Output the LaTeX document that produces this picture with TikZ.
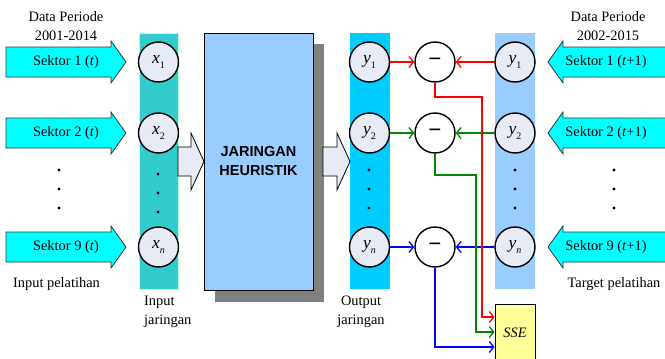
\documentclass[tikz,border=0pt]{standalone}
\usepackage{fontspec}
\setmainfont{Liberation Serif}
\newfontfamily\arialfont{Liberation Sans}
\usetikzlibrary{arrows.meta}
\definecolor{tealc}{RGB}{51,204,204}
\definecolor{outc}{RGB}{0,204,255}
\definecolor{tgtc}{RGB}{153,204,255}
\definecolor{boxc}{RGB}{153,204,255}
\definecolor{nfill}{RGB}{230,235,246}
\definecolor{cyanarrow}{RGB}{0,255,255}
\definecolor{ssefill}{RGB}{255,255,153}
\definecolor{greenc}{RGB}{0,136,0}
\definecolor{colborder}{RGB}{190,255,210}
\newcommand\nlbl[2]{\textit{#1}\raisebox{-0.55ex}{\fontsize{10}{10}\selectfont #2}}
\begin{document}
\begin{tikzpicture}[x=1pt,y=-1pt,
  txt/.style={font=\fontsize{14.4}{19}\selectfont, inner sep=0pt, align=center},
  neuron/.style={circle, draw, line width=1.4pt, fill=nfill, minimum size=40pt, inner sep=0pt, font=\fontsize{17.5}{17.5}\selectfont},
  minusnode/.style={circle, draw, line width=1.4pt, fill=white, minimum size=40pt, inner sep=0pt, font=\fontsize{23}{23}\selectfont\bfseries},
  sarrow/.style={fill=cyanarrow, draw=black!80, line width=0.8pt},
  barrow/.style={fill=nfill, draw=black, line width=0.8pt},
  conn/.style={line width=1.3pt, -{Straight Barb[length=4.5pt,width=11pt]}},
  dotc/.style={fill=black}
]
\useasboundingbox (0,0) rectangle (665,359);
% columns
\fill[tealc] (139,33) rectangle (178,289);
\draw[colborder, line width=0.8pt] (139,33) rectangle (178,289);
\fill[outc] (350,33) rectangle (390,289);
\fill[tgtc] (495,33) rectangle (535,289);
% big box with shadow
\fill[black!50] (215,44) rectangle (324,302);
\node[draw, fill=boxc, line width=1pt, minimum width=109pt, minimum height=257pt, inner sep=0pt,
  font=\arialfont\bfseries\fontsize{14.5}{19}\selectfont, align=center] (jh) at (258.5,161.5) {JARINGAN\\HEURISTIK};
% block arrows around box
\draw[barrow] (178,147) -- (191,147) -- (191,133) -- (204,161.5) -- (191,190) -- (191,176) -- (178,176) -- cycle;
\draw[barrow] (323,147) -- (337,147) -- (337,133) -- (350,161.5) -- (337,190) -- (337,176) -- (323,176) -- cycle;
% input sektor arrows
\foreach \yy in {62,133,247}{
  \draw[sarrow] (6,\yy-15) -- (111,\yy-15) -- (111,\yy-21) -- (126,\yy) -- (111,\yy+21) -- (111,\yy+15) -- (6,\yy+15) -- cycle;
  \draw[sarrow] (668,\yy-15) -- (563,\yy-15) -- (563,\yy-21) -- (548,\yy) -- (563,\yy+21) -- (563,\yy+15) -- (668,\yy+15) -- cycle;
}
\node[txt] (s1) at (66,62) {Sektor 1 (\textit{t})};
\node[txt] (s2) at (66,133) {Sektor 2 (\textit{t})};
\node[txt] (s9) at (66,247) {Sektor 9 (\textit{t})};
\node[txt] (t1) at (606,62) {Sektor 1 (\textit{t}+1)};
\node[txt] (t2) at (606,133) {Sektor 2 (\textit{t}+1)};
\node[txt] (t9) at (606,247) {Sektor 9 (\textit{t}+1)};
% labels
\node[txt] (dp1) at (66,26) {Data Periode\\2001-2014};
\node[txt] (dp2) at (608,26) {Data Periode\\2002-2015};
\node[txt] (ip) at (56.5,284) {Input pelatihan};
\node[txt] (tp) at (614,284) {Target pelatihan};
\node[txt, align=left, anchor=west] (ij) at (144,312) {Input\\jaringan};
\node[txt] (oj) at (361,312) {Output\\jaringan};
% dots
\foreach \yy in {170,189,208}{
  \fill[dotc] (59,\yy) circle (1.6pt);
  \fill[dotc] (614,\yy) circle (1.6pt);
  \fill[dotc] (369,\yy) circle (1.6pt);
  \fill[dotc] (515,\yy) circle (1.6pt);
}
\foreach \yy in {174,193,212}{
  \fill[dotc] (158,\yy) circle (1.6pt);
}
% neurons
\node[neuron] (x1) at (158.5,62) {\nlbl{x}{1}};
\node[neuron] (x2) at (158.5,133) {\nlbl{x}{2}};
\node[neuron] (xn) at (158.5,247) {\nlbl{x}{\textit{n}}};
\node[neuron] (oy1) at (369.5,62) {\nlbl{y}{1}};
\node[neuron] (oy2) at (369.5,133) {\nlbl{y}{2}};
\node[neuron] (oyn) at (369.5,247) {\nlbl{y}{\textit{n}}};
\node[neuron] (ty1) at (515,62) {\nlbl{y}{1}};
\node[neuron] (ty2) at (515,133) {\nlbl{y}{2}};
\node[neuron] (tyn) at (515,247) {\nlbl{y}{\textit{n}}};
\node[minusnode] (m1) at (435,62) {−};
\node[minusnode] (m2) at (435,133) {−};
\node[minusnode] (mn) at (435,247) {−};
% SSE
\node[draw, fill=ssefill, line width=0.8pt, minimum width=40pt, minimum height=58pt, inner sep=0pt,
  font=\fontsize{14.4}{17}\selectfont\itshape] (sse) at (515,333) {SSE};
% connectors
\coordinate (rk) at (482,97);
\coordinate (gk) at (476,175);
\draw[conn, blue] (oyn) -- (mn);
\draw[conn, blue] (tyn) -- (mn);
\draw[conn, blue] (mn.south) |- ([yshift=-14pt]sse.west);
\draw[conn, greenc] (oy2) -- (m2);
\draw[conn, greenc] (ty2) -- (m2);
\draw[conn, greenc] (m2.south) |- (gk) |- ([yshift=1pt]sse.west);
\draw[conn, red] (oy1) -- (m1);
\draw[conn, red] (ty1) -- (m1);
\draw[conn, red] (m1.south) |- (rk) |- ([yshift=16pt]sse.west);
\end{tikzpicture}
\end{document}
